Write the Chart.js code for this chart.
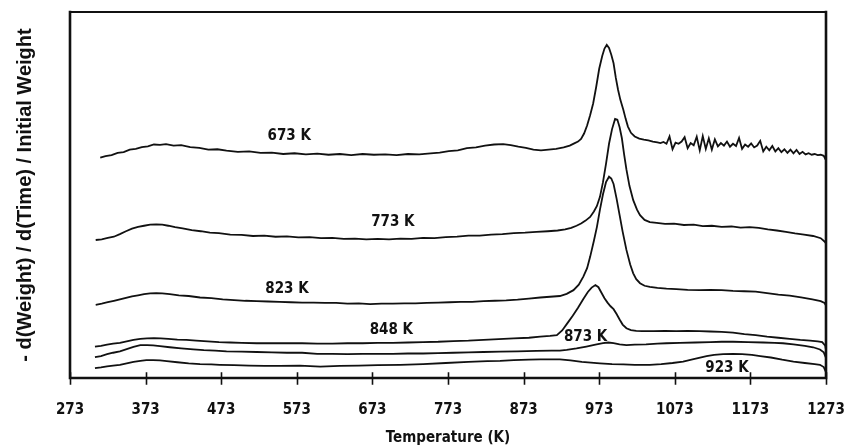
<!DOCTYPE html>
<html>
<head>
<meta charset="utf-8">
<title>DTG curves</title>
<script src="https://cdn.jsdelivr.net/npm/chart.js@4.4.1/dist/chart.umd.min.js"></script>
<style>
  html, body { margin: 0; padding: 0; background: #fff; }
</style>
</head>
<body>
<canvas id="dtgChart" width="849" height="447"></canvas>
<script>
// Bottom axis tick positions (K)
const tickTemps = [273, 373, 473, 573, 673, 773, 873, 973, 1073, 1173, 1273];

// Weight-loss rate curves, one per pretreatment temperature (arbitrary units)
const t673 = [313, 320, 328, 336, 344, 352, 360, 368, 376, 384, 392, 400, 410, 420, 432, 444, 456, 468, 480, 495,
  510, 525, 540, 555, 570, 585, 600, 615, 630, 645, 660, 675, 690, 705, 720, 735, 750, 762, 774, 786,
  798, 810, 822, 834, 846, 856, 866, 876, 886, 896, 906, 916, 926, 934, 940, 945, 949, 953, 957, 961,
  965, 969, 973, 977, 980, 983, 986, 989, 992, 995, 998, 1001, 1005, 1008, 1011, 1015, 1020, 1026, 1032, 1038,
  1044, 1050, 1054, 1058, 1062, 1066, 1070, 1074, 1078, 1082, 1086, 1090, 1094, 1098, 1102, 1106, 1110, 1114, 1118, 1122,
  1126, 1130, 1134, 1138, 1142, 1146, 1150, 1154, 1158, 1162, 1166, 1170, 1174, 1178, 1182, 1186, 1190, 1194, 1198, 1202,
  1206, 1210, 1214, 1218, 1222, 1226, 1230, 1234, 1238, 1242, 1246, 1250, 1254, 1258, 1262, 1266, 1270, 1273];
const r673 = [60.2, 60.6, 60.9, 61.5, 61.7, 62.4, 62.6, 63.1, 63.3, 63.8, 63.7, 63.9, 63.5, 63.6, 63.1, 62.9, 62.4, 62.5, 62.1, 61.8,
  61.9, 61.5, 61.6, 61.2, 61.4, 61.1, 61.3, 61.0, 61.2, 60.9, 61.2, 61.0, 61.1, 60.9, 61.2, 61.1, 61.4, 61.6, 62.0, 62.2,
  62.8, 63.0, 63.5, 63.8, 63.9, 63.6, 63.2, 62.9, 62.4, 62.2, 62.4, 62.6, 63.0, 63.5, 64.1, 64.6, 65.3, 66.8, 69.0, 71.8,
  75.0, 79.5, 84.5, 88.0, 90.0, 91.0, 90.2, 88.3, 86.0, 82.0, 78.7, 76.0, 73.2, 70.8, 68.7, 67.0, 66.0, 65.4, 65.1, 64.9,
  64.6, 64.4, 64.2, 64.5, 64.0, 66.0, 62.5, 64.3, 64.0, 64.6, 65.8, 62.8, 64.2, 63.6, 65.9, 62.2, 66.1, 62.6, 65.5, 62.4,
  65.2, 63.3, 64.2, 63.5, 64.6, 63.2, 64.0, 63.4, 65.6, 62.6, 63.8, 63.2, 64.1, 63.0, 63.5, 64.8, 61.9, 63.2, 62.2, 63.4,
  61.9, 62.8, 61.7, 62.5, 61.5, 62.4, 61.4, 62.3, 61.2, 61.8, 61.1, 61.4, 61.0, 61.2, 60.9, 61.0, 60.7, 59.5];

const t773 = [307, 315, 323, 331, 339, 347, 355, 363, 371, 379, 387, 395, 403, 412, 422, 434, 446, 458, 470, 485,
  500, 515, 530, 545, 560, 575, 590, 605, 620, 635, 650, 665, 680, 695, 710, 725, 740, 755, 770, 785,
  800, 815, 830, 845, 860, 875, 890, 905, 918, 928, 936, 943, 949, 955, 961, 966, 970, 974, 978, 982,
  986, 990, 994, 997, 1000, 1003, 1006, 1009, 1013, 1018, 1023, 1027, 1033, 1040, 1049, 1060, 1072, 1085, 1098, 1110,
  1122, 1135, 1148, 1160, 1172, 1184, 1196, 1208, 1220, 1232, 1244, 1256, 1266, 1271, 1273];
const r773 = [37.7, 37.9, 38.3, 38.6, 39.3, 40.1, 40.8, 41.3, 41.6, 41.9, 42.0, 41.9, 41.6, 41.2, 40.9, 40.4, 40.1, 39.7, 39.6, 39.2,
  39.1, 38.8, 38.9, 38.6, 38.7, 38.4, 38.5, 38.2, 38.3, 38.0, 38.1, 37.9, 38.0, 37.9, 38.1, 38.0, 38.3, 38.2, 38.5, 38.6,
  38.9, 38.9, 39.2, 39.3, 39.6, 39.7, 39.9, 40.1, 40.3, 40.6, 41.0, 41.6, 42.2, 43.0, 44.0, 45.5, 47.0, 49.5, 53.5, 58.5,
  64.0, 68.0, 70.8, 70.6, 68.5, 65.5, 61.0, 57.0, 52.5, 48.6, 46.0, 44.5, 43.2, 42.6, 42.4, 42.1, 42.2, 41.8, 41.9, 41.5,
  41.6, 41.3, 41.4, 41.1, 41.2, 41.0, 40.6, 40.3, 39.9, 39.5, 39.2, 38.8, 38.2, 37.3, 36.8];

const t823 = [307, 315, 323, 331, 339, 347, 355, 363, 371, 379, 387, 395, 405, 417, 430, 445, 460, 475, 490, 505,
  520, 535, 550, 565, 580, 595, 610, 625, 640, 655, 670, 685, 700, 715, 730, 745, 760, 775, 790, 805,
  820, 835, 850, 865, 880, 895, 908, 921, 930, 939, 946, 952, 957, 961, 966, 970, 974, 978, 982, 986,
  989, 992, 996, 1000, 1004, 1009, 1014, 1018, 1022, 1027, 1033, 1040, 1050, 1062, 1075, 1090, 1106, 1120, 1135, 1150,
  1165, 1180, 1195, 1210, 1225, 1240, 1255, 1266, 1271, 1273];
const r823 = [20.0, 20.3, 20.7, 21.1, 21.5, 21.9, 22.3, 22.6, 22.9, 23.1, 23.2, 23.1, 22.9, 22.6, 22.4, 22.0, 21.8, 21.5, 21.3, 21.1,
  21.0, 20.9, 20.8, 20.7, 20.6, 20.6, 20.5, 20.5, 20.3, 20.4, 20.2, 20.3, 20.3, 20.4, 20.4, 20.5, 20.6, 20.7, 20.8, 20.8,
  21.0, 21.1, 21.2, 21.4, 21.7, 22.0, 22.2, 22.4, 23.0, 24.0, 25.5, 27.7, 30.0, 33.1, 37.5, 41.3, 46.0, 50.2, 53.5, 55.0,
  54.5, 53.0, 49.0, 44.5, 40.0, 35.0, 31.0, 28.6, 27.0, 25.9, 25.2, 24.9, 24.6, 24.4, 24.3, 24.1, 24.0, 24.1, 24.0, 23.8,
  23.7, 23.6, 23.2, 22.8, 22.5, 22.0, 21.5, 21.0, 20.5, 19.8];

const t848 = [306, 314, 322, 330, 339, 348, 357, 366, 375, 384, 393, 403, 415, 427, 440, 455, 470, 485, 500, 520,
  540, 560, 580, 600, 620, 640, 660, 680, 700, 720, 740, 760, 780, 800, 820, 840, 860, 880, 895, 908,
  917, 924, 931, 938, 945, 952, 958, 963, 968, 972, 976, 980, 984, 988, 992, 996, 1000, 1004, 1009, 1015,
  1022, 1030, 1045, 1060, 1075, 1090, 1106, 1120, 1135, 1150, 1165, 1180, 1195, 1210, 1225, 1239, 1252, 1262, 1268, 1272, 1273];
const r848 = [8.6, 8.8, 9.1, 9.4, 9.6, 10.0, 10.4, 10.7, 10.8, 10.9, 10.8, 10.7, 10.5, 10.4, 10.2, 10.0, 9.8, 9.7, 9.6, 9.5,
  9.5, 9.5, 9.5, 9.4, 9.4, 9.5, 9.5, 9.6, 9.6, 9.7, 9.8, 9.9, 10.1, 10.2, 10.4, 10.6, 10.8, 11.0, 11.3, 11.5,
  11.7, 13.0, 15.0, 17.0, 19.2, 21.6, 23.5, 24.7, 25.4, 24.8, 23.3, 21.8, 20.6, 19.6, 18.8, 17.5, 16.0, 14.6, 13.6, 13.1,
  12.9, 12.8, 12.8, 12.9, 12.8, 12.9, 12.8, 12.7, 12.6, 12.4, 12.0, 11.7, 11.3, 11.0, 10.7, 10.4, 10.2, 10.0, 9.8, 8.8, 7.7];

const t873 = [306, 314, 322, 330, 339, 348, 357, 366, 375, 383, 392, 405, 420, 436, 450, 465, 480, 500, 520, 540,
  560, 580, 600, 620, 640, 660, 680, 700, 720, 740, 760, 780, 800, 820, 842, 865, 890, 910, 921, 930,
  943, 956, 968, 978, 985, 992, 1000, 1009, 1020, 1035, 1050, 1062, 1080, 1100, 1120, 1135, 1150, 1170, 1190, 1205,
  1216, 1230, 1245, 1256, 1265, 1270, 1273];
const r873 = [5.7, 6.0, 6.5, 6.9, 7.3, 7.9, 8.5, 9.0, 9.0, 8.9, 8.7, 8.4, 8.1, 7.8, 7.6, 7.5, 7.3, 7.2, 7.1, 7.0,
  6.9, 6.9, 6.6, 6.6, 6.5, 6.6, 6.6, 6.6, 6.7, 6.7, 6.8, 6.9, 7.0, 7.1, 7.2, 7.3, 7.4, 7.5, 7.5, 7.7,
  8.1, 8.6, 9.1, 9.5, 9.7, 9.5, 9.2, 9.0, 9.1, 9.2, 9.4, 9.5, 9.6, 9.7, 9.8, 9.9, 9.9, 9.8, 9.7, 9.6,
  9.5, 9.2, 8.8, 8.4, 7.8, 7.0, 5.5];

const t923 = [306, 314, 322, 330, 339, 348, 357, 366, 374, 383, 392, 401, 415, 430, 445, 460, 471, 490, 510, 530,
  550, 577, 604, 630, 655, 680, 710, 740, 770, 800, 825, 842, 860, 880, 895, 908, 921, 935, 950, 962,
  974, 990, 1005, 1020, 1040, 1055, 1070, 1084, 1095, 1105, 1115, 1125, 1137, 1150, 1162, 1175, 1186, 1200, 1215, 1230,
  1245, 1258, 1265, 1270, 1273];
const r923 = [2.7, 2.9, 3.2, 3.4, 3.6, 4.0, 4.4, 4.7, 4.9, 4.9, 4.8, 4.6, 4.3, 4.0, 3.8, 3.7, 3.6, 3.5, 3.4, 3.3,
  3.3, 3.4, 3.1, 3.3, 3.4, 3.5, 3.6, 3.8, 4.1, 4.4, 4.6, 4.7, 4.9, 5.0, 5.1, 5.1, 5.1, 4.8, 4.4, 4.2,
  4.0, 3.8, 3.7, 3.6, 3.6, 3.8, 4.1, 4.5, 5.0, 5.5, 6.0, 6.3, 6.5, 6.6, 6.5, 6.3, 6.0, 5.6, 5.0, 4.5,
  4.1, 3.8, 3.6, 3.0, 1.6];

const curveNames = ['673 K', '773 K', '823 K', '848 K', '873 K', '923 K'];
const curveTemps = [t673, t773, t823, t848, t873, t923];
const curveRates = [r673, r773, r823, r848, r873, r923];

// where each curve's name sits (K, rate units)
const labelTemps = [563, 700, 560, 698, 955, 1142];
const labelRates = [66.1, 42.5, 24.3, 13.1, 11.2, 2.7];

const narrowBold = '"Liberation Sans Narrow", "DejaVu Sans Condensed", "Liberation Sans", Arial, sans-serif';
const ink = '#111';

const datasets = curveNames.map((name, i) => ({
    label: name,
    data: curveTemps[i].map((t, j) => ({ x: t, y: curveRates[i][j] })),
    borderColor: ink,
    borderWidth: 1.8,
    pointRadius: 0,
    fill: false,
    tension: 0
}));

// box frame, crossing tick marks and the curve names
const framePlugin = {
    id: 'frameAndNames',
    afterDraw(chart) {
        const { ctx, chartArea: a, scales: { x, y } } = chart;
        ctx.save();
        ctx.strokeStyle = ink;
        ctx.lineCap = 'square';

        ctx.lineWidth = 2;
        ctx.beginPath();
        ctx.moveTo(a.left, a.top);
        ctx.lineTo(a.right, a.top);
        ctx.stroke();

        ctx.lineWidth = 2.6;
        ctx.beginPath();
        ctx.moveTo(a.left, a.top);
        ctx.lineTo(a.left, a.bottom);
        ctx.lineTo(a.right, a.bottom);
        ctx.moveTo(a.right, a.top);
        ctx.lineTo(a.right, a.bottom);
        ctx.stroke();

        ctx.lineWidth = 1.6;
        ctx.beginPath();
        tickTemps.forEach(t => {
            const px = Math.round(x.getPixelForValue(t)) + 0.5;
            ctx.moveTo(px, a.bottom - 5);
            ctx.lineTo(px, a.bottom + 6);
        });
        ctx.stroke();

        ctx.fillStyle = ink;
        ctx.font = 'bold 15px ' + narrowBold;
        ctx.textAlign = 'center';
        ctx.textBaseline = 'middle';
        curveNames.forEach((name, i) => {
            ctx.fillText(name, x.getPixelForValue(labelTemps[i]), y.getPixelForValue(labelRates[i]));
        });
        ctx.restore();
    }
};

new Chart(document.getElementById('dtgChart'), {
    type: 'line',
    data: { datasets },
    options: {
        responsive: false,
        animation: false,
        devicePixelRatio: 1,
        layout: { padding: { left: 13, right: 23, top: 12, bottom: 0 } },
        plugins: {
            legend: { display: false },
            tooltip: { enabled: false }
        },
        scales: {
            x: {
                type: 'linear',
                min: 273,
                max: 1273,
                afterBuildTicks: scale => { scale.ticks = tickTemps.map(v => ({ value: v })); },
                afterFit: scale => {
                    scale.height = 69;
                    scale.paddingLeft = 0;
                    scale.paddingRight = 0;
                },
                grid: { display: false, drawTicks: false },
                border: { display: false },
                ticks: {
                    autoSkip: false,
                    maxRotation: 0,
                    padding: 23,
                    color: ink,
                    callback: v => String(v),
                    font: { family: narrowBold, size: 15, weight: 'bold' }
                },
                title: {
                    display: true,
                    text: 'Temperature (K)',
                    color: ink,
                    padding: { top: 0, bottom: 0 },
                    font: { family: narrowBold, size: 15, weight: 'bold' }
                }
            },
            y: {
                min: 0,
                max: 100,
                afterFit: scale => { scale.width = 57; },
                grid: { display: false, drawTicks: false },
                border: { display: false },
                ticks: { display: false },
                title: {
                    display: true,
                    text: '- d(Weight) / d(Time) / Initial Weight',
                    color: ink,
                    padding: { top: 0, bottom: 0 },
                    font: { family: '"Liberation Sans", Arial, sans-serif', size: 20, weight: 'bold' }
                }
            }
        }
    },
    plugins: [framePlugin]
});
</script>
</body>
</html>
